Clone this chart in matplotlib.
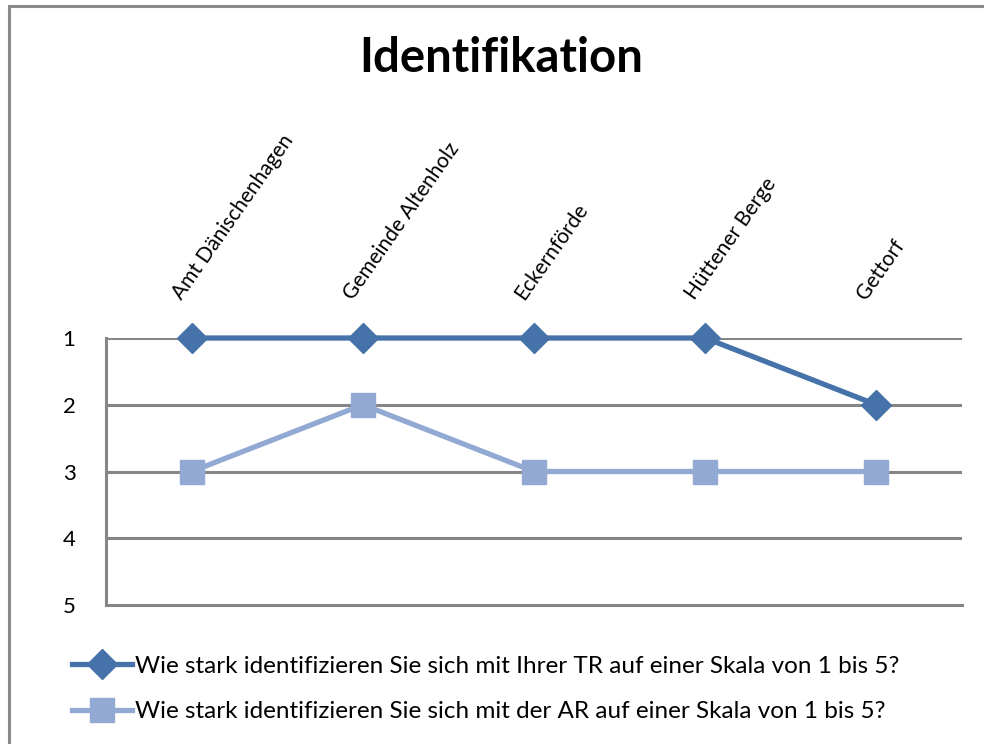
import matplotlib.pyplot as plt
from matplotlib.patches import Rectangle

categories = ["Amt Dänischenhagen", "Gemeinde Altenholz", "Eckernförde",
              "Hüttener Berge", "Gettorf"]
tr_values = [1, 1, 1, 1, 2]
ar_values = [3, 2, 3, 3, 3]
tr_label = "Wie stark identifizieren Sie sich mit Ihrer TR auf einer Skala von 1 bis 5?"
ar_label = "Wie stark identifizieren Sie sich mit der AR auf einer Skala von 1 bis 5?"
y_ticks = [1, 2, 3, 4, 5]

FONT = ["Lato", "DejaVu Sans"]
GRID = "#868686"
C1 = "#4672AA"
C2 = "#91A9D3"

plt.rcParams["font.family"] = FONT

W, H = 984, 744
fig = plt.figure(figsize=(W / 100, H / 100), dpi=100)
fig.patches.append(Rectangle((9 / W, -0.01), 1.1, (H - 6) / H + 0.01,
                             transform=fig.transFigure, fill=False,
                             edgecolor="#8a8a8a", linewidth=2.2))

ax = fig.add_axes([106 / W, 1 - 605 / H, (962 - 106) / W, (605 - 338) / H])
x = range(len(categories))
ax.plot(x, ar_values, color=C2, linewidth=3.8, marker="s", markersize=17,
        markeredgecolor=C2, label=ar_label, zorder=3, clip_on=False)
ax.plot(x, tr_values, color=C1, linewidth=3.8, marker="D", markersize=15,
        markeredgecolor=C1, label=tr_label, zorder=4, clip_on=False)

ax.set_xlim(-0.5, len(categories) - 0.5)
ax.set_ylim(5, 1)
ax.set_yticks(y_ticks)
ax.set_yticklabels([str(v) for v in y_ticks], fontsize=16)
ax.tick_params(axis="y", length=0, pad=22)
ax.set_xticks([])
for v in y_ticks[:-1]:
    ax.axhline(v, color=GRID, linewidth=2.2, zorder=1)
for s in ["top", "right"]:
    ax.spines[s].set_visible(False)
for s in ["left", "bottom"]:
    ax.spines[s].set_color(GRID)
    ax.spines[s].set_linewidth(2.2)

for i, name in enumerate(categories):
    ax.annotate(name, xy=(i, 1), xycoords="data", xytext=(-10, 37),
                textcoords="offset pixels", rotation=55,
                rotation_mode="anchor", ha="left", va="baseline",
                fontsize=15, annotation_clip=False)

fig.text(501 / W, 1 - 58 / H, "Identifikation", ha="center", va="center",
         fontsize=34, fontweight="bold")

handles, labels = ax.get_legend_handles_labels()
fig.legend(handles[::-1], labels[::-1], loc="upper left",
           bbox_to_anchor=(62 / W, 1 - 646 / H), frameon=False,
           fontsize=17.5, handlelength=2.5, handletextpad=0.1,
           labelspacing=1.0, borderaxespad=0)

fig.savefig("out.png", dpi=100)
